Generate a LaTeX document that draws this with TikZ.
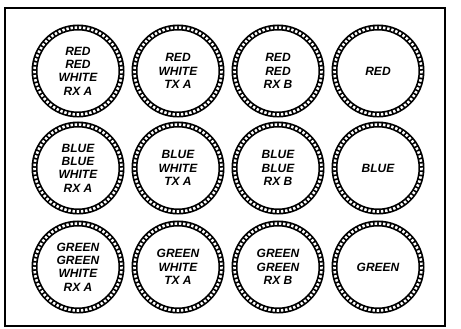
\documentclass[tikz,border=0pt]{standalone}
\usepackage{fontspec}
\setmainfont{Liberation Sans}
\begin{document}
\begin{tikzpicture}[x=1pt,y=-1pt,
  ring/.style={draw=black,line width=6pt},
  beads/.style={draw=white,line width=2.6pt,dash pattern=on 2.4pt off 1.8pt},
  label/.style={align=center,inner sep=0pt,font=\fontsize{12}{13.3}\selectfont\bfseries\itshape}]
\useasboundingbox (0,0) rectangle (461,329);
\draw[line width=1.2pt] (5,8) rectangle (445,326);
\foreach \r/\y in {1/71,2/168,3/267}{
  \foreach \c/\x in {1/78,2/178,3/278,4/378}{
    \draw[ring] (\x,\y) circle[radius=43.5];
    \draw[beads] (\x,\y) circle[radius=43.5];
    \coordinate (c\r\c) at (\x,\y);
  }
}
\node[label] (t11) at (c11) {RED\\RED\\WHITE\\RX A};
\node[label] (t12) at (c12) {RED\\WHITE\\TX A};
\node[label] (t13) at (c13) {RED\\RED\\RX B};
\node[label] (t14) at (c14) {RED};
\node[label] (t21) at (c21) {BLUE\\BLUE\\WHITE\\RX A};
\node[label] (t22) at (c22) {BLUE\\WHITE\\TX A};
\node[label] (t23) at (c23) {BLUE\\BLUE\\RX B};
\node[label] (t24) at (c24) {BLUE};
\node[label] (t31) at (c31) {GREEN\\GREEN\\WHITE\\RX A};
\node[label] (t32) at (c32) {GREEN\\WHITE\\TX A};
\node[label] (t33) at (c33) {GREEN\\GREEN\\RX B};
\node[label] (t34) at (c34) {GREEN};
\end{tikzpicture}
\end{document}
